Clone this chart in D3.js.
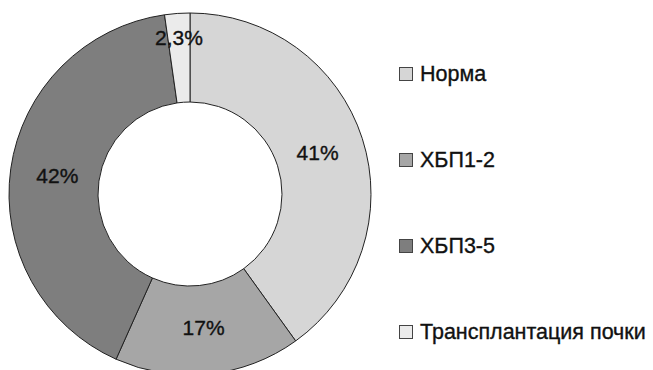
<!DOCTYPE html>
<html>
<head>
<meta charset="utf-8">
<script src="https://cdn.jsdelivr.net/npm/d3@7/dist/d3.min.js"></script>
<style>
  html, body { margin: 0; padding: 0; background: #fff; }
  svg { display: block; }
  text { font-family: "Liberation Sans", Arial, Helvetica, sans-serif; fill: #111; stroke: #111; stroke-width: 0.35px; }
</style>
</head>
<body>
<svg id="chart" width="653" height="370"></svg>
<script>
const categories = ["Норма", "ХБП1-2", "ХБП3-5", "Трансплантация почки"];
const values = [41, 17, 42, 2.3];
const valueLabels = ["41%", "17%", "42%", "2,3%"];
const colors = ["#d6d6d6", "#a6a6a6", "#7e7e7e", "#ebebeb"];

const svg = d3.select("#chart");
const cx = 190, cy = 194, outerR = 181, innerR = 92;

const data = categories.map((c, i) => ({ name: c, value: values[i], label: valueLabels[i], color: colors[i] }));

const pie = d3.pie().sort(null).value(d => d.value);
const arc = d3.arc().innerRadius(innerR).outerRadius(outerR);
const labelArc = d3.arc().innerRadius(134).outerRadius(134);
const smallLabelArc = d3.arc().innerRadius(157).outerRadius(157);

const g = svg.append("g").attr("transform", `translate(${cx},${cy})`);
const arcs = pie(data);

g.selectAll("path")
  .data(arcs)
  .join("path")
  .attr("d", arc)
  .attr("fill", d => d.data.color)
  .attr("stroke", "#222")
  .attr("stroke-width", 1);

g.selectAll("text.lbl")
  .data(arcs)
  .join("text")
  .attr("class", "lbl")
  .attr("transform", d => {
    const small = (d.endAngle - d.startAngle) < 0.3;
    const p = (small ? smallLabelArc : labelArc).centroid(d);
    return `translate(${p[0]},${p[1]})`;
  })
  .attr("text-anchor", "middle")
  .attr("dominant-baseline", "central")
  .style("font-size", "21px")
  .text(d => d.data.label);

const legend = svg.append("g").attr("transform", "translate(399,74)");
const step = 86;
const items = legend.selectAll("g")
  .data(data)
  .join("g")
  .attr("transform", (d, i) => `translate(0,${i * step})`);

items.append("rect")
  .attr("x", 0.5).attr("y", -6.5)
  .attr("width", 13).attr("height", 13)
  .attr("fill", d => d.color)
  .attr("stroke", "#444")
  .attr("stroke-width", 1);

items.append("text")
  .attr("x", 21)
  .attr("y", 0)
  .attr("dominant-baseline", "central")
  .style("font-size", "21.5px")
  .text(d => d.name);
</script>
</body>
</html>
